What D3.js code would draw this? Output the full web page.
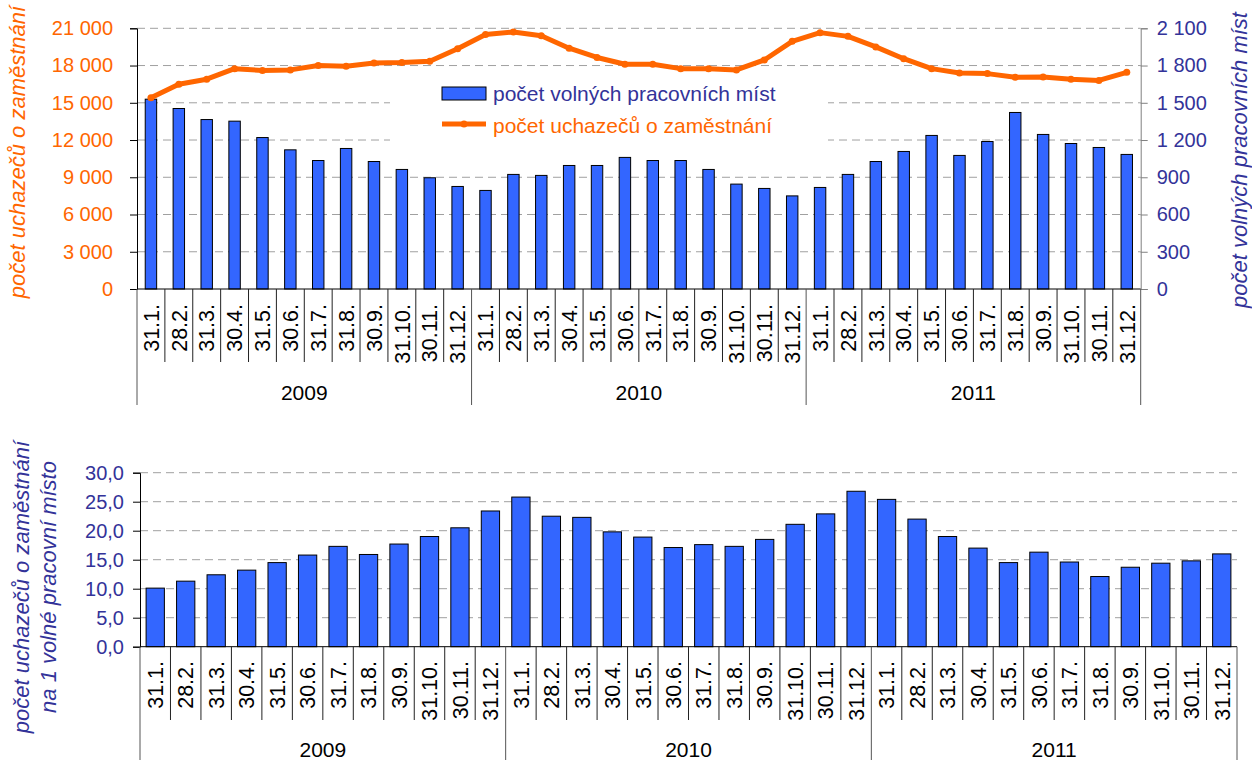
<!DOCTYPE html>
<html>
<head>
<meta charset="utf-8">
<script src="https://cdn.jsdelivr.net/npm/d3@7.9.0/dist/d3.min.js"></script>
<style>
  body { margin: 0; background: #fff; }
  svg { font-family: 'Liberation Sans', Arial, sans-serif; }
</style>
</head>
<body>
<svg id="chart" width="1252" height="760"></svg>
<script>
const years = ['2009', '2010', '2011'];
const dates = ['31.1.', '28.2.', '31.3.', '30.4.', '31.5.', '30.6.', '31.7.', '31.8.', '30.9.', '31.10.', '30.11.', '31.12.'];

// počet uchazečů o zaměstnání (levá osa, čára)
const uchazeci = [15400, 16500, 16900, 17750, 17600, 17650, 18000, 17950, 18200, 18250, 18350, 19350,
  20500, 20700, 20400, 19400, 18650, 18100, 18100, 17750, 17750, 17650, 18450, 19950,
  20650, 20350, 19500, 18550, 17750, 17400, 17350, 17050, 17080, 16900, 16800, 17450];

// počet volných pracovních míst (pravá osa, sloupce)
const mista = [1529, 1454, 1365, 1352, 1220, 1121, 1035, 1132, 1027, 963, 896, 826,
  794, 923, 915, 995, 995, 1060, 1035, 1035, 963, 845, 810, 750,
  818, 923, 1027, 1108, 1237, 1076, 1188, 1422, 1245, 1172, 1140, 1084];

// počet uchazečů na 1 volné pracovní místo
const podil = [10.1, 11.3, 12.4, 13.2, 14.5, 15.8, 17.3, 15.9, 17.7, 19.0, 20.5, 23.4,
  25.8, 22.5, 22.3, 19.8, 18.9, 17.1, 17.6, 17.3, 18.5, 21.1, 22.9, 26.8,
  25.4, 22.0, 19.0, 17.0, 14.5, 16.3, 14.6, 12.1, 13.7, 14.4, 14.8, 16.0];

const leftTicks = [0, 3000, 6000, 9000, 12000, 15000, 18000, 21000];
const rightTicks = [0, 300, 600, 900, 1200, 1500, 1800, 2100];
const ratioTicks = [0, 5, 10, 15, 20, 25, 30];

const ORANGE = '#ff6600';
const PURPLE = '#333399';
const BLUE = '#3366ff';

let periods = [];
years.forEach((y) => dates.forEach((d) => periods.push({ year: y, date: d })));
let idx = periods.map((_, i) => i);

let fmtThousands = (v) => d3.format(',')(v).replace(/,/g, '\u00a0');
let fmtRatio = (v) => v.toFixed(1).replace('.', ',');

let svg = d3.select('#chart');

function drawCategoryAxis(g, x, yAxis, labelTop, tickEnd, yearEnd, yearY) {
  let step = x.step();
  let x0 = x.range()[0];
  let x1 = x.range()[1];

  g.append('line')
    .attr('x1', x0).attr('x2', x1)
    .attr('y1', yAxis).attr('y2', yAxis)
    .attr('stroke', '#000');

  d3.range(periods.length + 1).forEach((i) => {
    let isYear = i % 12 === 0;
    g.append('line')
      .attr('x1', x0 + i * step).attr('x2', x0 + i * step)
      .attr('y1', yAxis).attr('y2', isYear ? yearEnd : tickEnd)
      .attr('stroke', isYear ? '#555' : '#222');
  });

  g.selectAll('text.date')
    .data(periods)
    .join('text')
    .attr('class', 'date')
    .attr('transform', (d, i) => `translate(${x0 + (i + 0.5) * step},${labelTop}) rotate(-90)`)
    .attr('text-anchor', 'end')
    .attr('dy', '0.36em')
    .attr('font-size', 21.5)
    .attr('fill', '#000')
    .text((d) => d.date);

  g.selectAll('text.year')
    .data(years)
    .join('text')
    .attr('class', 'year')
    .attr('x', (d, i) => x0 + (i * 12 + 6) * step)
    .attr('y', yearY)
    .attr('text-anchor', 'middle')
    .attr('font-size', 21)
    .attr('fill', '#000')
    .text((d) => d);
}

// ---------- horní graf ----------
let topChart = svg.append('g');
let xTop = d3.scaleBand().domain(idx).range([137, 1140.7]).paddingInner(0.59).paddingOuter(0.295);
let xTopStep = d3.scaleBand().domain(idx).range([137, 1140.7]);
let yLeft = d3.scaleLinear().domain([0, 21000]).range([289, 28.3]);
let yRight = d3.scaleLinear().domain([0, 2100]).range([289, 28.3]);

topChart.selectAll('line.grid')
  .data(leftTicks.slice(1))
  .join('line')
  .attr('class', 'grid')
  .attr('x1', 137).attr('x2', 1140.7)
  .attr('y1', (d) => yLeft(d)).attr('y2', (d) => yLeft(d))
  .attr('stroke', '#a0a0a0')
  .attr('stroke-dasharray', '8,5');

// legenda pozadí překrývá mřížku
topChart.append('rect')
  .attr('x', 390).attr('y', 78)
  .attr('width', 438).attr('height', 66)
  .attr('fill', '#fff');

topChart.selectAll('rect.bar')
  .data(mista)
  .join('rect')
  .attr('class', 'bar')
  .attr('x', (d, i) => xTop(i))
  .attr('y', (d) => yRight(d))
  .attr('width', xTop.bandwidth())
  .attr('height', (d) => yRight(0) - yRight(d))
  .attr('fill', BLUE)
  .attr('stroke', '#000')
  .attr('stroke-width', 1);

let line = d3.line()
  .x((d, i) => xTopStep(i) + xTopStep.bandwidth() / 2)
  .y((d) => yLeft(d));

topChart.append('path')
  .datum(uchazeci)
  .attr('d', line)
  .attr('fill', 'none')
  .attr('stroke', ORANGE)
  .attr('stroke-width', 5)
  .attr('stroke-linejoin', 'round');

topChart.selectAll('circle.pt')
  .data(uchazeci)
  .join('circle')
  .attr('class', 'pt')
  .attr('cx', (d, i) => xTopStep(i) + xTopStep.bandwidth() / 2)
  .attr('cy', (d) => yLeft(d))
  .attr('r', 3.5)
  .attr('fill', ORANGE);

// levá osa
let leftAxis = topChart.append('g').attr('transform', 'translate(137,0)')
  .call(d3.axisLeft(yLeft).tickValues(leftTicks).tickFormat(fmtThousands).tickSize(7).tickPadding(17));
leftAxis.select('.domain').attr('stroke', '#000');
leftAxis.selectAll('.tick line').attr('stroke', '#000');
leftAxis.selectAll('.tick text')
  .attr('fill', ORANGE)
  .attr('font-size', 20)
  .attr('font-family', 'Liberation Sans, Arial, sans-serif');

// pravá osa
let rightAxis = topChart.append('g').attr('transform', 'translate(1140.7,0)')
  .call(d3.axisRight(yRight).tickValues(rightTicks).tickFormat(fmtThousands).tickSize(7).tickPadding(9));
rightAxis.select('.domain').attr('stroke', '#808080');
rightAxis.selectAll('.tick line').attr('stroke', '#808080');
rightAxis.selectAll('.tick text')
  .attr('fill', PURPLE)
  .attr('font-size', 20)
  .attr('font-family', 'Liberation Sans, Arial, sans-serif');

drawCategoryAxis(topChart.append('g'), xTopStep, 289, 304, 362, 405, 400);

topChart.append('text')
  .attr('transform', 'translate(25,152) rotate(-90)')
  .attr('text-anchor', 'middle')
  .attr('font-size', 22)
  .attr('font-style', 'italic')
  .attr('fill', ORANGE)
  .text('počet uchazečů o zaměstnání');

topChart.append('text')
  .attr('transform', 'translate(1247,160) rotate(-90)')
  .attr('text-anchor', 'middle')
  .attr('font-size', 22)
  .attr('font-style', 'italic')
  .attr('fill', PURPLE)
  .text('počet volných pracovních míst');

// legenda
let legend = topChart.append('g');
legend.append('rect')
  .attr('x', 442).attr('y', 87)
  .attr('width', 44).attr('height', 13)
  .attr('fill', BLUE)
  .attr('stroke', '#000');
legend.append('text')
  .attr('x', 493).attr('y', 101)
  .attr('font-size', 21)
  .attr('fill', PURPLE)
  .text('počet volných pracovních míst');
legend.append('line')
  .attr('x1', 442).attr('x2', 486)
  .attr('y1', 124).attr('y2', 124)
  .attr('stroke', ORANGE)
  .attr('stroke-width', 5);
legend.append('circle')
  .attr('cx', 464).attr('cy', 124).attr('r', 3.5)
  .attr('fill', ORANGE);
legend.append('text')
  .attr('x', 493).attr('y', 133)
  .attr('font-size', 21)
  .attr('fill', ORANGE)
  .text('počet uchazečů o zaměstnání');

// ---------- dolní graf ----------
let bottomChart = svg.append('g');
let xBot = d3.scaleBand().domain(idx).range([140, 1237]).paddingInner(0.4).paddingOuter(0.2);
let xBotStep = d3.scaleBand().domain(idx).range([140, 1237]);
let yRatio = d3.scaleLinear().domain([0, 30]).range([646.7, 472.7]);

bottomChart.selectAll('line.grid')
  .data(ratioTicks.slice(1))
  .join('line')
  .attr('class', 'grid')
  .attr('x1', 140).attr('x2', 1237)
  .attr('y1', (d) => yRatio(d)).attr('y2', (d) => yRatio(d))
  .attr('stroke', '#a0a0a0')
  .attr('stroke-dasharray', '8,5');

bottomChart.selectAll('rect.bar')
  .data(podil)
  .join('rect')
  .attr('class', 'bar')
  .attr('x', (d, i) => xBot(i))
  .attr('y', (d) => yRatio(d))
  .attr('width', xBot.bandwidth())
  .attr('height', (d) => yRatio(0) - yRatio(d))
  .attr('fill', BLUE)
  .attr('stroke', '#000')
  .attr('stroke-width', 1);

let ratioAxis = bottomChart.append('g').attr('transform', 'translate(140,0)')
  .call(d3.axisLeft(yRatio).tickValues(ratioTicks).tickFormat(fmtRatio).tickSize(7).tickPadding(9));
ratioAxis.select('.domain').attr('stroke', '#000');
ratioAxis.selectAll('.tick line').attr('stroke', '#000');
ratioAxis.selectAll('.tick text')
  .attr('fill', PURPLE)
  .attr('font-size', 20)
  .attr('font-family', 'Liberation Sans, Arial, sans-serif');

drawCategoryAxis(bottomChart.append('g'), xBotStep, 646.7, 661, 720, 760, 757);

let ratioTitle = bottomChart.append('text')
  .attr('transform', 'translate(0,587) rotate(-90)')
  .attr('text-anchor', 'middle')
  .attr('font-size', 22)
  .attr('font-style', 'italic')
  .attr('fill', PURPLE);
ratioTitle.append('tspan').attr('x', 0).attr('y', 29).text('počet uchazečů o zaměstnání');
ratioTitle.append('tspan').attr('x', 0).attr('y', 56).text('na 1 volné pracovní místo');
</script>
</body>
</html>
